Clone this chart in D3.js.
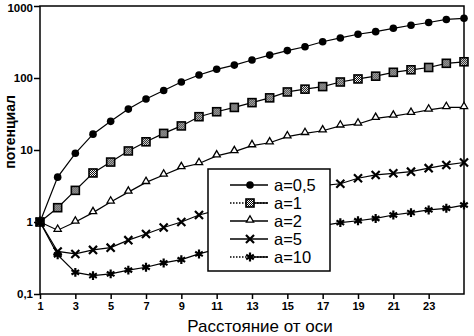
<!DOCTYPE html>
<html><head><meta charset="utf-8">
<script src="https://cdn.jsdelivr.net/npm/d3@7"></script>
<style>body{margin:0;background:#fff}svg{display:block}</style>
</head><body><svg id="c" width="474" height="336"></svg>
<script>
const xs = [1,2,3,4,5,6,7,8,9,10,11,12,13,14,15,16,17,18,19,20,21,22,23,24,25];
const sA05 = [1,4.2,9,16.6,25,37,51,67,88,110,132,151,178,208,240,272,319,360,405,440,490,540,590,650,675];
const sA1  = [1,1.58,2.75,4.8,6.8,9.7,13,17,21.6,29,34,39,45.5,53,64,70,76,88,97,106,120,130,140,160,168];
const sA2  = [1,0.77,1.0,1.35,1.9,2.6,3.55,4.5,5.7,6.5,8.3,9.5,11.5,12.6,15.3,17,18.5,21.6,23,27.5,29.6,32.4,36,39,39];
const sA5  = [1,0.39,0.36,0.41,0.44,0.56,0.68,0.84,1.0,1.25,1.45,1.7,2.0,2.3,2.6,2.9,3.2,3.4,4.05,4.5,4.75,5.0,5.6,6.2,6.7];
const sA10 = [1,0.35,0.2,0.18,0.19,0.215,0.235,0.27,0.3,0.36,0.42,0.48,0.55,0.63,0.72,0.8,0.89,0.98,1.04,1.12,1.25,1.35,1.47,1.55,1.72];
const seriesNames = ["a=0,5","a=1","a=2","a=5","a=10"];
const xTicks = [1,3,5,7,9,11,13,15,17,19,21,23];
const yTicks = [0.1,1,10,100,1000];
const yTickLabels = ["0,1","1","10","100","1000"];
const xTitle = "Расстояние от оси";
const yTitle = "потенциал";

const svg = d3.select("#c");
const defs = svg.append("defs");
const pat = defs.append("pattern").attr("id","chk").attr("width",2).attr("height",2).attr("patternUnits","userSpaceOnUse");
pat.append("rect").attr("width",2).attr("height",2).attr("fill","#fff");
pat.append("rect").attr("width",1).attr("height",1).attr("fill","#000");
pat.append("rect").attr("x",1).attr("y",1).attr("width",1).attr("height",1).attr("fill","#000");

const x = d3.scaleLinear().domain([1,25]).range([40,464]);
const y = d3.scaleLog().domain([0.1,1000]).range([294,6]);

const font = "Arial, 'Liberation Sans', sans-serif";

// frame
svg.append("rect").attr("x",x(1)).attr("y",y(1000)).attr("width",x(25)-x(1)).attr("height",y(0.1)-y(1000))
  .attr("fill","none").attr("stroke","#000").attr("stroke-width",1.5);

// axes
const yAxis = d3.axisLeft(y).tickValues(yTicks).tickSize(6).tickFormat((d,i)=>yTickLabels[i]);
const gy = svg.append("g").attr("transform",`translate(${x(1)},0)`).call(yAxis);
gy.select(".domain").remove();
gy.selectAll("line").attr("stroke","#000").attr("stroke-width",1.5);
gy.selectAll("text").attr("font-family",font).attr("font-weight","bold").attr("font-size",11.5).attr("fill","#000").attr("x",-7)
  .attr("dy",(d)=> d===1000 ? "0.45em" : "0.32em");

const xAxis = d3.axisBottom(x).tickValues(xTicks).tickSize(5).tickFormat(d3.format("d"));
const gx = svg.append("g").attr("transform",`translate(0,${y(0.1)})`).call(xAxis);
gx.select(".domain").remove();
gx.selectAll("line").attr("stroke","#000").attr("stroke-width",1.5);
gx.selectAll("text").attr("font-family",font).attr("font-weight","bold").attr("font-size",11).attr("fill","#000").attr("y",8);

svg.append("text").attr("x",260).attr("y",332).attr("text-anchor","middle")
  .attr("font-family",font).attr("font-size",17).text(xTitle);
svg.append("text").attr("transform","translate(15,132) rotate(-90)").attr("text-anchor","middle")
  .attr("font-family",font).attr("font-weight","bold").attr("font-size",14).text(yTitle);

const allSeries = [sA05,sA1,sA2,sA5,sA10];
const line = d3.line().x((d,i)=>x(xs[i])).y(d=>y(d));

function marker(g, k) {
  if (k===0) g.append("circle").attr("r",3.8).attr("fill","#000");
  else if (k===1) g.append("rect").attr("x",-4).attr("y",-4).attr("width",8).attr("height",8).attr("fill","url(#chk)").attr("stroke","#000").attr("stroke-width",1.6);
  else if (k===2) g.append("path").attr("d",d3.symbol(d3.symbolTriangle2,38)()).attr("transform","translate(0,-1)").attr("fill","#fff").attr("stroke","#000").attr("stroke-width",1.3);
  else if (k===3) g.append("path").attr("d",d3.symbol(d3.symbolTimes,44)()).attr("fill","none").attr("stroke","#000").attr("stroke-width",2.2);
  else g.append("path").attr("d",d3.symbol(d3.symbolAsterisk,55)()).attr("fill","none").attr("stroke","#000").attr("stroke-width",2.2);
}

allSeries.forEach((s,k)=>{
  svg.append("path").attr("d",line(s)).attr("fill","none").attr("stroke","#000").attr("stroke-width",1.2);
  s.forEach((v,i)=>{
    const g = svg.append("g").attr("transform",`translate(${x(xs[i])},${y(v)})`);
    marker(g,k);
  });
});

// legend
const lg = svg.append("g");
lg.append("rect").attr("x",208).attr("y",169).attr("width",122).attr("height",102).attr("fill","#fff").attr("stroke","#000").attr("stroke-width",1.5);
seriesNames.forEach((n,k)=>{
  const yy = 185 + k*18;
  lg.append("line").attr("x1",230).attr("x2",268).attr("y1",yy).attr("y2",yy).attr("stroke","#000").attr("stroke-width",1.5)
    .attr("stroke-dasharray",(k===1||k===4)?"1.5,1.5":null);
  if (k===1||k===4) lg.append("line").attr("x1",250).attr("x2",268).attr("y1",yy).attr("y2",yy).attr("stroke","#000").attr("stroke-width",1.5);
  const g = lg.append("g").attr("transform",`translate(250,${yy})`);
  marker(g,k);
  lg.append("text").attr("x",274).attr("y",yy+6).attr("font-family",font).attr("font-size",16.5).text(n);
});
</script></body></html>
